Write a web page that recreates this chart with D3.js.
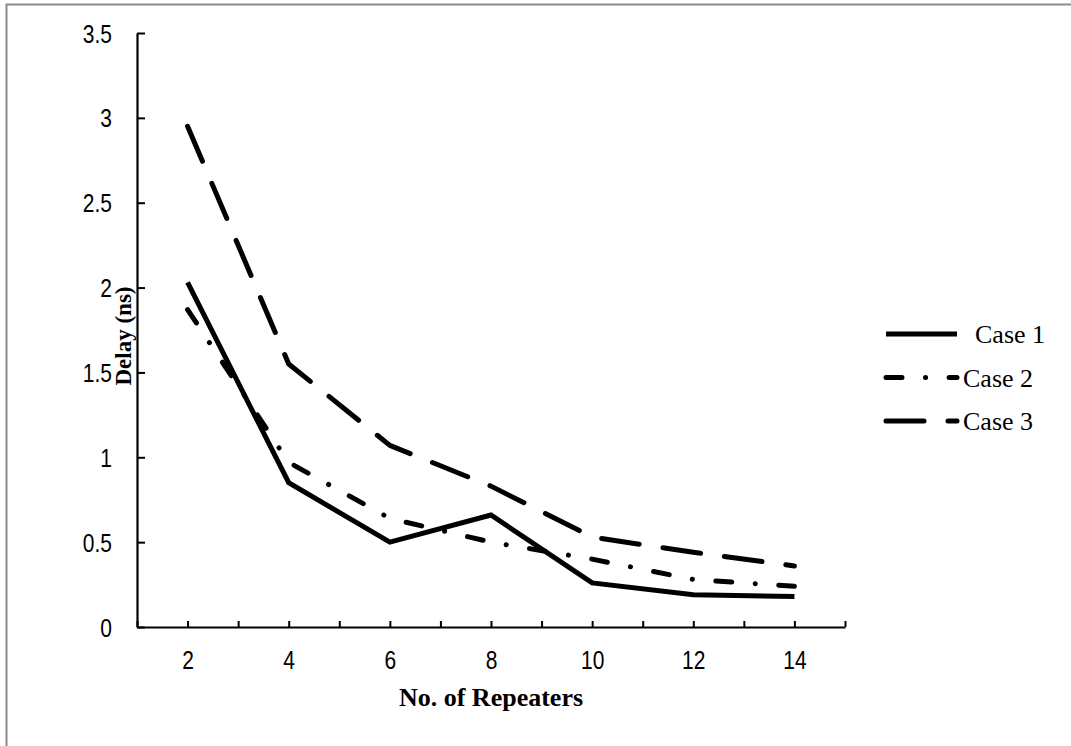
<!DOCTYPE html>
<html>
<head>
<meta charset="utf-8">
<script src="https://cdn.jsdelivr.net/npm/d3@7"></script>
<style>
  html, body { margin: 0; padding: 0; background: #fff; }
  svg { display: block; }
  .tick text { font-family: "Liberation Sans", Arial, sans-serif; font-size: 25px; fill: #000; }
  .title { font-family: "Liberation Serif", "Times New Roman", serif; font-weight: bold; fill: #000; }
  .legend text { font-family: "Liberation Serif", "Times New Roman", serif; font-size: 26px; fill: #000; }
</style>
</head>
<body>
<svg id="chart" width="1071" height="746"></svg>
<script>
// Number of repeaters on the x axis
const repeaters = [2, 4, 6, 8, 10, 12, 14];

// Delay (ns) for each case
const case1 = [2.03, 0.85, 0.50, 0.66, 0.26, 0.19, 0.18];
const case2 = [1.87, 0.97, 0.64, 0.50, 0.40, 0.28, 0.24];
const case3 = [2.95, 1.55, 1.07, 0.83, 0.53, 0.44, 0.36];

const seriesNames = ["Case 1", "Case 2", "Case 3"];
const yTicks = [0, 0.5, 1, 1.5, 2, 2.5, 3, 3.5];
const xTicks = [1, 2, 3, 4, 5, 6, 7, 8, 9, 10, 11, 12, 13, 14, 15];

const series = [
  { name: seriesNames[0], values: case1, dash: null, legendX: 975 },
  { name: seriesNames[1], values: case2, dash: "16,23.5,0.1,23.5", legendX: 963 },
  { name: seriesNames[2], values: case3, dash: "38,24", legendX: 963 }
];

const svg = d3.select("#chart");

// outer frame
svg.append("path")
  .attr("d", "M6.5,746 L6.5,4.5 L1071,4.5")
  .attr("fill", "none")
  .attr("stroke", "#8c8c8c")
  .attr("stroke-width", 2);

const plot = { left: 137, right: 845, top: 33, bottom: 627 };

const x = d3.scaleLinear().domain([1, 15]).range([plot.left, plot.right]);
const y = d3.scaleLinear().domain([0, 3.5]).range([plot.bottom, plot.top]);

// y axis, ticks pointing inward
const yAxis = svg.append("g")
  .attr("transform", `translate(${plot.left},0)`)
  .call(d3.axisLeft(y).tickValues(yTicks).tickSizeInner(-8).tickSizeOuter(0).tickPadding(25)
    .tickFormat(d => String(d)));

// x axis, ticks pointing up, labels on even counts
const xAxis = svg.append("g")
  .attr("transform", `translate(0,${plot.bottom})`)
  .call(d3.axisBottom(x).tickValues(xTicks).tickSizeInner(-6).tickSizeOuter(0).tickPadding(25)
    .tickFormat(d => (d % 2 === 0 && d <= 14) ? String(d) : ""));

[yAxis, xAxis].forEach(g => {
  g.select(".domain").attr("stroke", "#000").attr("stroke-width", 2.2);
  g.selectAll(".tick line").attr("stroke", "#000").attr("stroke-width", 2);
});
yAxis.selectAll(".tick text").attr("dy", "0.36em");
xAxis.selectAll(".tick text").attr("dy", "0.7em");

// condensed look for the tick numerals
const squeeze = 0.84;
svg.selectAll(".tick text").each(function () {
  const t = d3.select(this);
  const tx = +(t.attr("x") || 0);
  t.attr("x", tx / squeeze).attr("transform", `scale(${squeeze},1)`);
});

// data lines
const line = d3.line()
  .x((d, i) => x(repeaters[i]))
  .y(d => y(d));

series.forEach(s => {
  svg.append("path")
    .datum(s.values)
    .attr("d", line)
    .attr("fill", "none")
    .attr("stroke", "#000")
    .attr("stroke-width", 5)
    .attr("stroke-linejoin", s.dash ? "round" : "miter")
    .attr("stroke-linecap", s.dash ? "round" : "butt")
    .attr("stroke-dasharray", s.dash);
});

// axis titles
svg.append("text")
  .attr("class", "title")
  .attr("font-size", 26)
  .attr("x", (plot.left + plot.right) / 2)
  .attr("y", 706)
  .attr("text-anchor", "middle")
  .text("No. of Repeaters");

svg.append("text")
  .attr("class", "title")
  .attr("font-size", 23)
  .attr("transform", "translate(131,336) rotate(-90)")
  .attr("text-anchor", "middle")
  .text("Delay (ns)");

// legend
const legendY = d3.scalePoint().domain(seriesNames).range([334, 421]);
const legend = svg.append("g").attr("class", "legend");
series.forEach(s => {
  const ly = legendY(s.name);
  legend.append("line")
    .attr("x1", 886).attr("x2", 957)
    .attr("y1", ly).attr("y2", ly)
    .attr("stroke", "#000")
    .attr("stroke-width", 5)
    .attr("stroke-linecap", s.dash ? "round" : "butt")
    .attr("stroke-dasharray", s.dash);
  legend.append("text")
    .attr("x", s.legendX)
    .attr("y", ly)
    .attr("dy", "0.35em")
    .text(s.name);
});
</script>
</body>
</html>
